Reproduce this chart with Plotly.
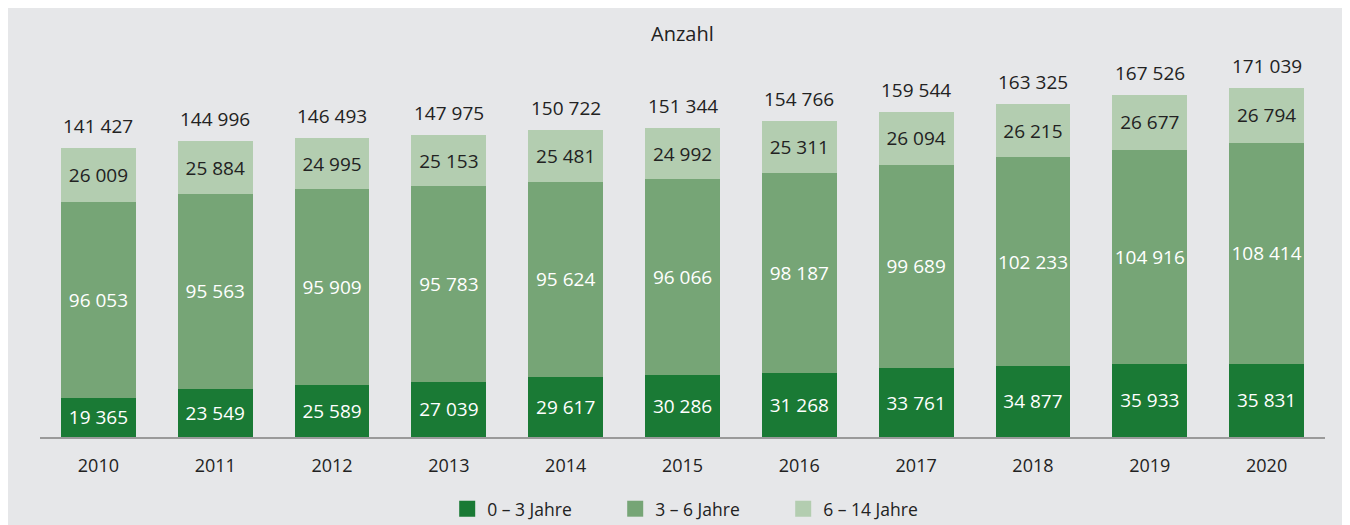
import plotly.graph_objects as go

years = ["2010", "2011", "2012", "2013", "2014", "2015", "2016", "2017", "2018", "2019", "2020"]
age_0_3 = [19365, 23549, 25589, 27039, 29617, 30286, 31268, 33761, 34877, 35933, 35831]
age_3_6 = [96053, 95563, 95909, 95783, 95624, 96066, 98187, 99689, 102233, 104916, 108414]
age_6_14 = [26009, 25884, 24995, 25153, 25481, 24992, 25311, 26094, 26215, 26677, 26794]
totals = [141427, 144996, 146493, 147975, 150722, 151344, 154766, 159544, 163325, 167526, 171039]

names = ["0 – 3 Jahre", "3 – 6 Jahre", "6 – 14 Jahre"]
colors = ["#1a7a35", "#76a576", "#b3cdb0"]
text_colors = ["#ffffff", "#ffffff", "#222222"]

def fmt(v):
    return f"{v:,}".replace(",", " ")

FONT = "Open Sans"
fig = go.Figure()
for vals, name, col, tc in zip([age_0_3, age_3_6, age_6_14], names, colors, text_colors):
    fig.add_trace(go.Bar(
        x=years, y=vals, name=name, marker=dict(color=col, line=dict(width=0)),
        text=[fmt(v) for v in vals], textposition="inside", insidetextanchor="middle",
        textangle=0, constraintext="none",
        textfont=dict(color=tc, size=19, family=FONT),
        hoverinfo="skip", showlegend=False,
    ))
for name, col in zip(names, colors):
    # legend entry with a larger square symbol
    fig.add_trace(go.Scatter(
        x=[years[0]], y=[None], mode="markers", name=name,
        marker=dict(symbol="square", size=16, color=col),
        hoverinfo="skip", showlegend=True,
    ))

# total labels above each bar (x given as category index)
annotations = [dict(text=fmt(t), x=i, y=t, xref="x", yref="y", showarrow=False,
                    yanchor="middle", yshift=22, font=dict(size=19, color="#222222"))
               for i, t in enumerate(totals)]
annotations.append(dict(text="Anzahl", x=0.5, y=0.990, xref="paper", yref="paper",
                        showarrow=False, font=dict(size=20, color="#222222"),
                        xanchor="center", yanchor="middle"))

fig.update_layout(
    barmode="stack", bargap=0.36,
    width=1342, height=517,
    margin=dict(l=32, r=25, t=21, b=88, autoexpand=False),
    paper_bgcolor="#e6e7e9", plot_bgcolor="#e6e7e9",
    font=dict(family=FONT, size=18, color="#222222"),
    uniformtext=dict(minsize=19, mode="show"),
    xaxis=dict(type="category", categoryorder="array", categoryarray=years,
               range=[-0.5, len(years) - 0.5], automargin=False,
               showline=True, linecolor="#9a9a9a", linewidth=1.5,
               ticks="", ticklabelstandoff=12, tickfont=dict(size=18, color="#222222"),
               showgrid=False),
    yaxis=dict(range=[0, 200000], visible=False, showgrid=False, zeroline=False),
    legend=dict(orientation="h", x=0.513, xanchor="center", y=-0.176, yanchor="middle",
                font=dict(size=17.5, color="#222222"), traceorder="normal",
                entrywidth=123, entrywidthmode="pixels", bgcolor="rgba(0,0,0,0)"),
    annotations=annotations,
    showlegend=True,
)

fig.write_html("out.html")
